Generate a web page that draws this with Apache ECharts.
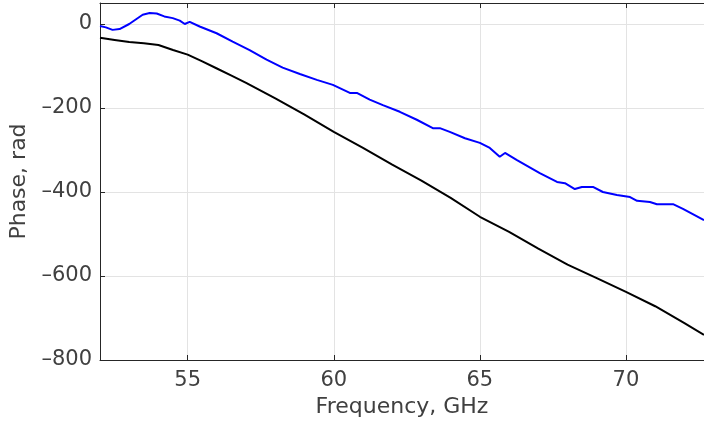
<!DOCTYPE html>
<html>
<head>
<meta charset="utf-8">
<script src="https://cdn.jsdelivr.net/npm/echarts@6/dist/echarts.min.js"></script>
<style>html,body{margin:0;padding:0;background:#fff}#c{width:704px;height:427px}</style>
</head>
<body>
<div id="c"></div>
<script>
// Black curve: frequency (GHz) and phase (rad)
const blackFreq = [52.0,52.5,53.0,53.5,54.0,54.5,55.0,55.5,56.0,56.5,57.0,58.0,59.0,60.0,61.0,62.0,63.0,64.0,65.0,66.0,67.0,68.0,69.0,70.0,71.0,72.0,72.67];
const blackPhase = [-33,-38,-43,-46,-50,-62,-73,-89,-106,-123,-140,-177,-216,-257,-295,-335,-373,-414,-459,-495,-535,-573,-605,-638,-672,-712,-740];
// Blue curve
const blueFreq = [52.0,52.2,52.43,52.67,53.0,53.46,53.7,53.94,54.2,54.49,54.73,54.9,55.07,55.41,55.99,56.54,57.12,57.7,58.25,58.84,59.42,59.97,60.55,60.79,61.23,61.68,62.26,62.84,63.39,63.63,63.97,64.49,65.0,65.34,65.68,65.86,66.27,67.05,67.64,67.91,68.25,68.49,68.87,69.21,69.69,70.14,70.38,70.82,71.06,71.61,71.95,72.67];
const bluePhase = [-5,-8,-14,-12,0,22,26,25,18,14,8,0,5,-6,-22,-42,-62,-85,-104,-119,-133,-145,-164,-164,-180,-193,-209,-228,-248,-248,-257,-272,-283,-295,-316,-307,-324,-355,-376,-379,-393,-388,-388,-400,-407,-412,-421,-424,-429,-429,-440,-467];
const xTicks = [55,60,65,70];
const yTicks = [0,-200,-400,-600,-800];

const pair = (xs, ys) => xs.map((x, i) => [x, ys[i]]);
const font = 'DejaVu Sans';
const txt = '#404040';
const fmtY = v => (v < 0 ? '\u2013' + Math.abs(v) : String(v));
const chart = echarts.init(document.getElementById('c'), null, {renderer: 'canvas'});
chart.setOption({
  animation: false,
  backgroundColor: '#fff',
  grid: {left: 100, right: 0, top: 3, bottom: 67},
  xAxis: [{
    type: 'value', min: 52, max: 72.67,
    name: 'Frequency, GHz', nameLocation: 'middle', nameGap: 36,
    nameTextStyle: {fontFamily: font, fontSize: 22, color: txt},
    axisLine: {show: true, onZero: false, lineStyle: {color: '#262626', width: 1}},
    axisTick: {show: true, inside: true, length: 5, lineStyle: {color: '#262626'}, customValues: xTicks},
    axisLabel: {fontFamily: font, fontSize: 21, color: txt, margin: 10, customValues: xTicks},
    splitLine: {show: true, lineStyle: {color: '#e3e3e3', width: 1}, customValues: xTicks}
  }, {
    type: 'value', position: 'top', min: 52, max: 72.67,
    axisLine: {show: true, onZero: false, lineStyle: {color: '#262626', width: 1}},
    axisTick: {show: true, inside: true, length: 5, lineStyle: {color: '#262626'}, customValues: xTicks},
    axisLabel: {show: false, customValues: xTicks},
    splitLine: {show: false}
  }],
  yAxis: {
    type: 'value', min: -800, max: 50,
    name: 'Phase, rad', nameLocation: 'middle', nameGap: 66,
    nameTextStyle: {fontFamily: font, fontSize: 22, color: txt},
    axisLine: {show: true, onZero: false, lineStyle: {color: '#262626', width: 1}},
    axisTick: {show: true, inside: true, length: 5, lineStyle: {color: '#262626'}, customValues: yTicks},
    axisLabel: {fontFamily: font, fontSize: 21, color: txt, margin: 8, customValues: yTicks, formatter: fmtY},
    splitLine: {show: true, lineStyle: {color: '#e3e3e3', width: 1}, customValues: yTicks}
  },
  series: [{
    type: 'line', data: pair(blackFreq, blackPhase), showSymbol: false, symbol: 'none',
    lineStyle: {color: '#000', width: 2}, z: 3
  }, {
    type: 'line', data: pair(blueFreq, bluePhase), showSymbol: false, symbol: 'none',
    lineStyle: {color: '#0000ff', width: 2}, z: 4
  }]
});
</script>
</body>
</html>
